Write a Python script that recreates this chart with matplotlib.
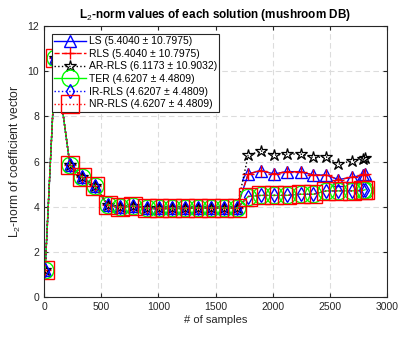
import matplotlib
matplotlib.use('Agg')
import matplotlib.pyplot as plt
import numpy as np

plt.rcParams['font.family'] = ['Liberation Sans', 'DejaVu Sans']
plt.rcParams['mathtext.fontset'] = 'custom'
plt.rcParams['mathtext.rm'] = 'Liberation Sans'
plt.rcParams['mathtext.bf'] = 'Liberation Sans:bold'

samples = [10, 100, 227, 335, 446, 557, 665, 782, 898, 1009, 1123, 1234, 1350,
           1459, 1572, 1686, 1786, 1898, 2010, 2125, 2245, 2355, 2470, 2575,
           2692, 2790, 2808]

# first part is shared by every method
common = [1.2, 10.6, 5.84, 5.3, 4.91, 4.07, 3.97, 4.03, 3.92, 3.92, 3.92, 3.92,
          3.95, 3.95, 3.95, 3.92]
ls_tail = [5.45, 5.6, 5.45, 5.55, 5.55, 5.4, 5.4, 5.2, 5.3, 5.4, 5.45]
ar_tail = [6.28, 6.47, 6.28, 6.33, 6.33, 6.18, 6.2, 5.88, 6.03, 6.1, 6.14]
ter_tail = [4.45, 4.5, 4.5, 4.5, 4.55, 4.55, 4.7, 4.7, 4.7, 4.72, 4.75]

ls = common + ls_tail
rls = common + ls_tail
ar_rls = common + ar_tail
ter = common + ter_tail
ir_rls = common + ter_tail
nr_rls = common + ter_tail

labels = ['LS (5.4040 \u00b1 10.7975)', 'RLS (5.4040 \u00b1 10.7975)',
          'AR-RLS (6.1173 \u00b1 10.9032)', 'TER (4.6207 \u00b1 4.4809)',
          'IR-RLS (4.6207 \u00b1 4.4809)', 'NR-RLS (4.6207 \u00b1 4.4809)']

fig = plt.figure(figsize=(3.98, 3.37), dpi=100)
ax = fig.add_axes([0.1106, 0.1187, 0.8618, 0.8041])

ax.plot(samples, ls, '-^', color='b', mfc='none', ms=8, lw=1.0, mew=1.0, label=labels[0])
ax.plot(samples, rls, '--+', color='r', ms=9, lw=1.0, mew=1.0, label=labels[1])
ax.plot(samples, ar_rls, ':*', color='k', mfc='none', ms=9, lw=1.0, mew=0.9, label=labels[2])
ax.plot(samples, ter, '-o', color='#00ff00', mfc='none', ms=12, lw=1.0, mew=1.0, label=labels[3])
ax.plot(samples, ir_rls, ':d', color='b', mfc='none', ms=7.5, lw=1.0, mew=1.0, label=labels[4])
ax.plot(samples, nr_rls, ':s', color='r', mfc='none', ms=13, lw=1.0, mew=1.0, label=labels[5])

ax.set_xlim(0, 3000)
ax.set_ylim(0, 12)
ax.set_xticks(np.arange(0, 3001, 500))
ax.set_yticks(np.arange(0, 13, 2))
ax.grid(True, linestyle=(0, (5, 3)), color='#dcdcdc', lw=0.8)
ax.set_axisbelow(True)
ax.tick_params(direction='in', length=3, labelsize=7.5, colors='#262626', top=True, right=True,
               labeltop=False, labelright=False)
for s in ax.spines.values():
    s.set_color('#262626')
    s.set_linewidth(0.8)

ax.set_xlabel('# of samples', fontsize=8, color='#262626', labelpad=2)
ax.set_ylabel('L$_2$-norm of coefficient vector', fontsize=8.7, color='#262626', labelpad=3)
ax.set_title('L$_2$-norm values of each solution (mushroom DB)', fontsize=8.5,
             fontweight='bold', color='#000000', pad=6)

leg = ax.legend(loc='upper left', bbox_to_anchor=(0.022, 0.972), fontsize=7.5,
                numpoints=1, handlelength=3.1, handletextpad=0.2, labelspacing=0.25,
                borderpad=0.25, borderaxespad=0.0, fancybox=False, framealpha=1)
leg.get_frame().set_edgecolor('#262626')
leg.get_frame().set_linewidth(0.8)

fig.savefig('out.png', dpi=100)
